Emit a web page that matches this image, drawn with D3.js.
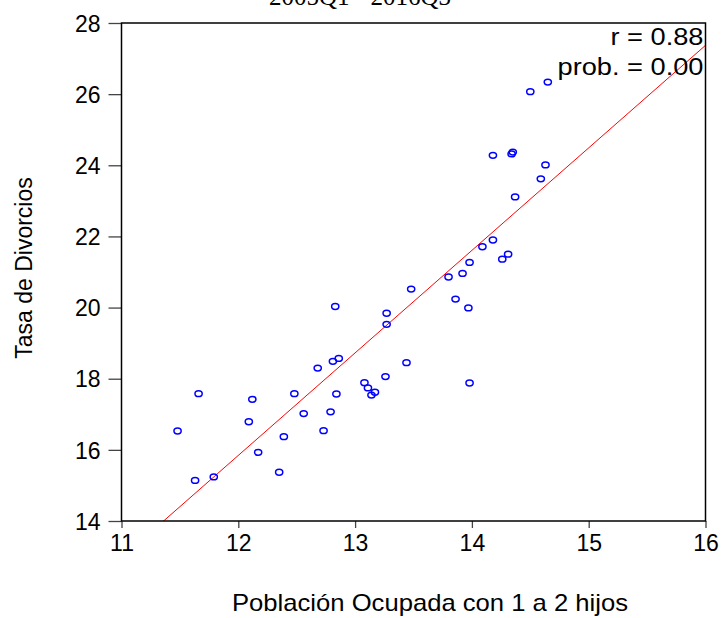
<!DOCTYPE html>
<html>
<head>
<meta charset="utf-8">
<script src="https://cdn.jsdelivr.net/npm/d3@7"></script>
<style>
  body { margin: 0; background: #fff; }
  text { font-family: "Liberation Sans", Arial, sans-serif; }
</style>
</head>
<body>
<div id="chart"></div>
<script>
// valores (x = poblacion ocupada, y = tasa de divorcios)
const ocupada = [14.65, 14.50, 14.18, 14.34, 14.35, 14.63, 14.59, 14.37, 14.18, 14.09,
  13.98, 14.26, 14.31, 13.48, 12.83, 13.27, 13.27, 13.44, 12.68, 12.81,
  12.86, 11.66, 12.12, 12.48, 12.84, 13.08, 13.11, 13.14, 13.17, 13.26,
  12.56, 12.79, 12.09, 11.48, 12.73, 12.39, 12.17, 12.35, 11.63, 11.79,
  13.80, 13.92, 13.86, 13.97, 13.98]
const divorcios = [26.34, 26.07, 24.28, 24.32, 24.37, 24.01, 23.62, 23.11, 21.90, 21.71,
  21.27, 21.36, 21.50, 20.52, 20.03, 19.84, 19.53, 18.45, 18.30, 18.49,
  18.57, 17.58, 17.42, 17.58, 17.57, 17.89, 17.74, 17.54, 17.62, 18.06,
  17.02, 17.07, 16.79, 16.53, 16.54, 16.37, 15.93, 15.37, 15.14, 15.24,
  20.86, 20.96, 20.24, 19.99, 17.88]
const xTicks = [11, 12, 13, 14, 15, 16]
const yTicks = [14, 16, 18, 20, 22, 24, 26, 28]
const stats = ['r = 0.88', 'prob. = 0.00']

const W = 721, H = 618
const margin = { top: 23, left: 121.5, right: 15.5, bottom: 97 }
const width = W - margin.left - margin.right
const height = H - margin.top - margin.bottom

const svg = d3.select('#chart').append('svg')
  .attr('width', W).attr('height', H)

const g = svg.append('g')
  .attr('transform', 'translate(' + margin.left + ',' + margin.top + ')')

const x = d3.scaleLinear().domain([11, 16]).range([0, width])
const y = d3.scaleLinear().domain([14, 28]).range([height, 0])

svg.append('defs').append('clipPath').attr('id', 'clip')
  .append('rect').attr('width', width).attr('height', height)

// titulo cortado arriba
svg.append('text')
  .attr('x', 360).attr('y', 5)
  .attr('text-anchor', 'middle')
  .style('font-family', '"Liberation Serif", "Times New Roman", serif')
  .style('font-size', '25px')
  .text('2005Q1 - 2016Q3')

// ejes
const xAxis = g.append('g')
  .attr('transform', 'translate(0,' + height + ')')
  .call(d3.axisBottom(x).tickValues(xTicks).tickSize(7).tickPadding(6).tickFormat(d3.format('d')))
const yAxis = g.append('g')
  .call(d3.axisLeft(y).tickValues(yTicks).tickSize(13).tickPadding(8).tickFormat(d3.format('d')))

;[xAxis, yAxis].forEach(a => {
  a.select('.domain').remove()
  a.selectAll('line').attr('stroke', '#444').attr('stroke-width', 1.3)
  a.selectAll('text').style('font-size', '23px').attr('fill', '#000')
    .style('font-family', '"Liberation Sans", Arial, sans-serif')
})
yAxis.selectAll('text').attr('dy', '0.36em')
xAxis.selectAll('text').attr('dy', '0.74em')

// linea de regresion (minimos cuadrados)
const mx = d3.mean(ocupada), my = d3.mean(divorcios)
const slope = d3.sum(ocupada, (v, i) => (v - mx) * (divorcios[i] - my)) /
  d3.sum(ocupada, v => (v - mx) * (v - mx))
const intercept = my - slope * mx
g.append('line')
  .attr('clip-path', 'url(#clip)')
  .attr('x1', x(11)).attr('y1', y(intercept + slope * 11))
  .attr('x2', x(16)).attr('y2', y(intercept + slope * 16))
  .attr('stroke', '#ff0000').attr('stroke-width', 1)

// puntos (un poco ovalados como en el original)
g.selectAll('ellipse')
  .data(ocupada)
  .enter()
  .append('ellipse')
  .attr('cx', d => x(d))
  .attr('cy', (d, i) => y(divorcios[i]))
  .attr('rx', 3.6)
  .attr('ry', 2.9)
  .attr('fill', 'none')
  .attr('stroke', '#0000ff')
  .attr('stroke-width', 1.5)

// marco
g.append('rect')
  .attr('width', width).attr('height', height)
  .attr('fill', 'none').attr('stroke', '#000').attr('stroke-width', 1.5)

// r y prob
const statW = [93, 146]
g.selectAll('.stat')
  .data(stats)
  .enter()
  .append('text')
  .attr('class', 'stat')
  .attr('x', width - 2)
  .attr('y', (d, i) => 22 + i * 30)
  .attr('text-anchor', 'end')
  .attr('textLength', (d, i) => statW[i])
  .attr('lengthAdjust', 'spacingAndGlyphs')
  .style('font-size', '23px')
  .text(d => d)

// titulos de ejes
svg.append('text')
  .attr('x', 430).attr('y', 611)
  .attr('text-anchor', 'middle')
  .attr('textLength', 396)
  .attr('lengthAdjust', 'spacingAndGlyphs')
  .style('font-size', '24px')
  .text('Población Ocupada con 1 a 2 hijos')

svg.append('text')
  .attr('transform', 'translate(32,' + 268 + ') rotate(-90)')
  .attr('text-anchor', 'middle')
  .style('font-size', '23px')
  .text('Tasa de Divorcios')
</script>
</body>
</html>
